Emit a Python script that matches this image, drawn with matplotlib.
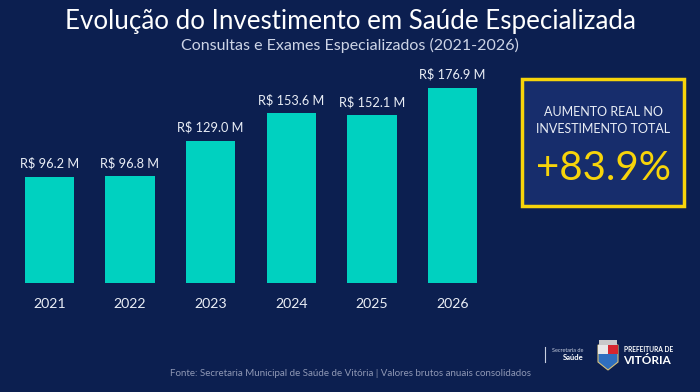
import matplotlib

matplotlib.use("Agg")
import matplotlib.pyplot as plt
from matplotlib.patches import Rectangle, Polygon

plt.rcParams["font.family"] = ["Lato", "DejaVu Sans"]

BG = "#0c1f50"
TEAL = "#00d1c0"
YELLOW = "#f7d40a"
TEXT = "#e9edf5"

# dados (R$ milhões)
anos = ["2021", "2022", "2023", "2024", "2025", "2026"]
valores = [96.2, 96.8, 129.0, 153.6, 152.1, 176.9]
rotulos = ["R$ 96.2 M", "R$ 96.8 M", "R$ 129.0 M", "R$ 153.6 M", "R$ 152.1 M", "R$ 176.9 M"]
aumento = "+83.9%"

W, H = 700, 392
fig = plt.figure(figsize=(W / 100, H / 100), dpi=100, facecolor=BG)


def px(x, y):
    # pixel (topo-esquerda) -> fração da figura
    return x / W, 1 - y / H


# eixo das barras
ax = fig.add_axes([9.0 / W, 1 - 283 / H, 484 / W, 223 / H])
ax.set_facecolor(BG)
x = list(range(len(anos)))
bars = ax.bar(x, valores, width=0.61, color=TEAL)
for b, lab in zip(bars, rotulos):
    ax.annotate(lab, (b.get_x() + b.get_width() / 2, b.get_height()),
                xytext=(0, 5), textcoords="offset points",
                ha="center", va="bottom", color=TEXT, fontsize=9.2)
ax.set_xlim(-0.5, 5.5)
ax.set_ylim(0, 202)
ax.set_xticks(x)
ax.set_xticklabels(anos, color=TEXT, fontsize=10.2)
ax.tick_params(axis="x", length=0, pad=11)
ax.set_yticks([])
for s in ax.spines.values():
    s.set_visible(False)

# títulos
fig.text(*px(350, 22), "Evolução do Investimento em Saúde Especializada",
         ha="center", va="center", color="white", fontsize=18.6)
fig.text(*px(350, 45), "Consultas e Exames Especializados (2021-2026)",
         ha="center", va="center", color="#cdd4e6", fontsize=11.5)

# caixa de destaque
x0, y0 = px(522, 206)
box = Rectangle((x0, y0), 162 / W, 127 / H, transform=fig.transFigure,
                facecolor="#172d6c", edgecolor=YELLOW, linewidth=2.5)
fig.patches.append(box)
fig.text(*px(603, 112), "AUMENTO REAL NO", ha="center", va="center",
         color=TEXT, fontsize=9)
fig.text(*px(603, 129), "INVESTIMENTO TOTAL", ha="center", va="center",
         color=TEXT, fontsize=9)
fig.text(*px(603, 168), aumento, ha="center", va="center",
         color=YELLOW, fontsize=29)

# rodapé
fig.text(*px(350, 374), "Fonte: Secretaria Municipal de Saúde de Vitória | Valores brutos anuais consolidados",
         ha="center", va="center", color="#8f98b5", fontsize=7)

# logos (aproximação)
fig.lines.append(plt.Line2D([545 / W, 545 / W], [1 - 347 / H, 1 - 362 / H],
                            transform=fig.transFigure, color="#c8cfe0", lw=0.8))
fig.text(*px(583, 350), "Secretaria de", ha="right", va="center",
         color="#c8cfe0", fontsize=4)
fig.text(*px(583, 357), "Saúde", ha="right", va="center",
         color="white", fontsize=5.5, fontweight="bold")
shield = Polygon([px(598, 345), px(618, 345), px(618, 362), px(608, 370), px(598, 362)],
                 closed=True, transform=fig.transFigure,
                 facecolor="#2f6fbf", edgecolor="#d9c27a", lw=0.8)
fig.patches.append(shield)
fig.patches.append(Rectangle(px(598, 354), 10 / W, 9 / H, transform=fig.transFigure,
                             facecolor="#e8e8e8", lw=0))
fig.patches.append(Rectangle(px(608, 354), 10 / W, 9 / H, transform=fig.transFigure,
                             facecolor="#d6262e", lw=0))
fig.patches.append(Rectangle(px(599, 345), 18 / W, 5 / H, transform=fig.transFigure,
                             facecolor="#c9c9c9", lw=0))
fig.text(*px(624, 350), "PREFEITURA DE", ha="left", va="center",
         color="white", fontsize=4.8, fontweight="bold")
fig.text(*px(623, 360), "VITÓRIA", ha="left", va="center",
         color="white", fontsize=8.5, fontweight="bold")

fig.savefig("out.png", dpi=100, facecolor=BG)
